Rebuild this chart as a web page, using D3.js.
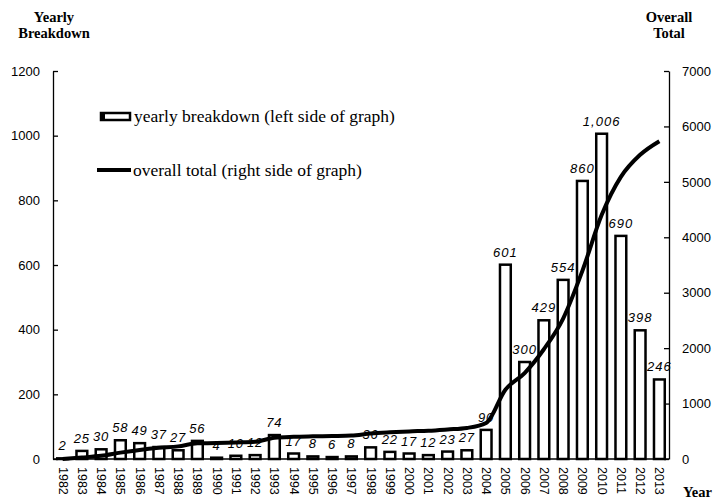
<!DOCTYPE html>
<html>
<head>
<meta charset="utf-8">
<script src="https://cdn.jsdelivr.net/npm/d3@7"></script>
<style>
  body { margin: 0; background: #fff; }
  svg { display: block; }
  .tick text { font-family: "Liberation Sans", Arial, sans-serif; }
</style>
</head>
<body>
<div id="chart"></div>
<script>
var years = ["1982", "1983", "1984", "1985", "1986", "1987", "1988", "1989", "1990", "1991",
    "1992", "1993", "1994", "1995", "1996", "1997", "1998", "1999", "2000", "2001",
    "2002", "2003", "2004", "2005", "2006", "2007", "2008", "2009", "2010", "2011",
    "2012", "2013"];
var yearly = [2, 25, 30, 58, 49, 37, 27, 56, 4, 10,
    12, 74, 17, 8, 6, 8, 36, 22, 17, 12,
    23, 27, 90, 601, 300, 429, 554, 860, 1006, 690,
    398, 246];
var overall = [2, 27, 57, 115, 164, 201, 228, 284, 288, 298,
    310, 384, 401, 409, 415, 423, 459, 481, 498, 510,
    533, 560, 650, 1251, 1551, 1980, 2534, 3394, 4400, 5090,
    5488, 5734];
var leftTicks = [0, 200, 400, 600, 800, 1000, 1200];
var rightTicks = [0, 1000, 2000, 3000, 4000, 5000, 6000, 7000];

var width = 716, height = 502;
// plot edges (named so they do not clash with window.top)
var plotLeft = 53, plotRight = 669, plotTop = 71, plotBottom = 459;

var svg = d3.select("#chart").append("svg")
    .attr("width", width)
    .attr("height", height);

var x = d3.scaleBand()
    .domain(years)
    .range([plotLeft, plotRight])
    .paddingInner(0.44)
    .paddingOuter(0.22);

var yL = d3.scaleLinear().domain([0, 1200]).range([plotBottom, plotTop]);
var yR = d3.scaleLinear().domain([0, 7000]).range([plotBottom, plotTop]);

// axes (ticks point inward like the original)
var axisL = svg.append("g")
    .attr("transform", "translate(" + plotLeft + ",0)")
    .call(d3.axisLeft(yL).tickValues(leftTicks).tickFormat(d3.format("d"))
        .tickSizeInner(-5).tickSizeOuter(0).tickPadding(13));
var axisR = svg.append("g")
    .attr("transform", "translate(" + plotRight + ",0)")
    .call(d3.axisRight(yR).tickValues(rightTicks).tickFormat(d3.format("d"))
        .tickSizeInner(-5).tickSizeOuter(0).tickPadding(13));

[axisL, axisR].forEach(function (a) {
    a.select(".domain").attr("stroke", "#000").attr("stroke-width", 1.3);
    a.selectAll(".tick line").attr("stroke", "#000").attr("stroke-width", 1.3);
    a.selectAll(".tick text").attr("font-size", 13).attr("fill", "#000");
});

// bars
svg.selectAll("rect.bar")
    .data(yearly)
    .enter().append("rect")
    .attr("class", "bar")
    .attr("x", function (d, i) { return x(years[i]); })
    .attr("y", function (d) { return yL(d); })
    .attr("width", x.bandwidth())
    .attr("height", function (d) { return plotBottom - yL(d); })
    .attr("fill", "#fff")
    .attr("stroke", "#000")
    .attr("stroke-width", 2.5);

// x axis line
svg.append("line")
    .attr("x1", plotLeft).attr("x2", plotRight)
    .attr("y1", plotBottom).attr("y2", plotBottom)
    .attr("stroke", "#000").attr("stroke-width", 1.5);

// bar value labels
var fmt = d3.format(",");
svg.selectAll("text.val")
    .data(yearly)
    .enter().append("text")
    .attr("class", "val")
    .attr("x", function (d, i) { return x(years[i]) + x.bandwidth() / 2; })
    .attr("y", function (d) { return yL(d) - 8; })
    .attr("text-anchor", "middle")
    .attr("font-family", "'Liberation Sans', Arial, sans-serif")
    .attr("font-style", "italic")
    .attr("font-size", 13)
    .attr("letter-spacing", 1)
    .text(function (d) { return fmt(d); });

// overall total line
var line = d3.line()
    .x(function (d, i) { return x(years[i]) + x.bandwidth() / 2; })
    .y(function (d) { return yR(d); })
    .curve(d3.curveMonotoneX);

svg.append("path")
    .datum(overall)
    .attr("d", line)
    .attr("fill", "none")
    .attr("stroke", "#000")
    .attr("stroke-width", 4)
    .attr("stroke-linejoin", "round");

// year labels, rotated
svg.selectAll("text.year")
    .data(years)
    .enter().append("text")
    .attr("class", "year")
    .attr("transform", function (d) {
        return "translate(" + (x(d) + x.bandwidth() / 2 - 4) + "," + (plotBottom + 8) + ") rotate(90)";
    })
    .attr("font-family", "'Liberation Sans', Arial, sans-serif")
    .attr("font-size", 12.5)
    .text(String);

// axis titles
var serif = "'Liberation Serif', 'Times New Roman', serif";
function title(lines, cx, y0) {
    lines.forEach(function (t, i) {
        svg.append("text")
            .attr("x", cx).attr("y", y0 + i * 16)
            .attr("text-anchor", "middle")
            .attr("font-family", serif)
            .attr("font-weight", "bold")
            .attr("font-size", 14.5)
            .text(t);
    });
}
title(["Yearly", "Breakdown"], 54, 22);
title(["Overall", "Total"], 669, 22);

svg.append("text")
    .attr("x", 683).attr("y", 497)
    .attr("font-family", serif)
    .attr("font-weight", "bold")
    .attr("font-size", 14.5)
    .text("Year");

// legend
var legend = svg.append("g");
legend.append("rect")
    .attr("x", 101).attr("y", 113)
    .attr("width", 29).attr("height", 7)
    .attr("fill", "#fff").attr("stroke", "#000").attr("stroke-width", 2.5);
legend.append("rect")
    .attr("x", 100).attr("y", 112)
    .attr("width", 5).attr("height", 9)
    .attr("fill", "#000");
legend.append("text")
    .attr("x", 134).attr("y", 122)
    .attr("font-family", serif)
    .attr("font-size", 17.5)
    .text("yearly breakdown (left side of graph)");

legend.append("line")
    .attr("x1", 97).attr("x2", 131)
    .attr("y1", 170).attr("y2", 170)
    .attr("stroke", "#000").attr("stroke-width", 4);
legend.append("text")
    .attr("x", 133).attr("y", 176)
    .attr("font-family", serif)
    .attr("font-size", 17.5)
    .text("overall total (right side of graph)");
</script>
</body>
</html>
